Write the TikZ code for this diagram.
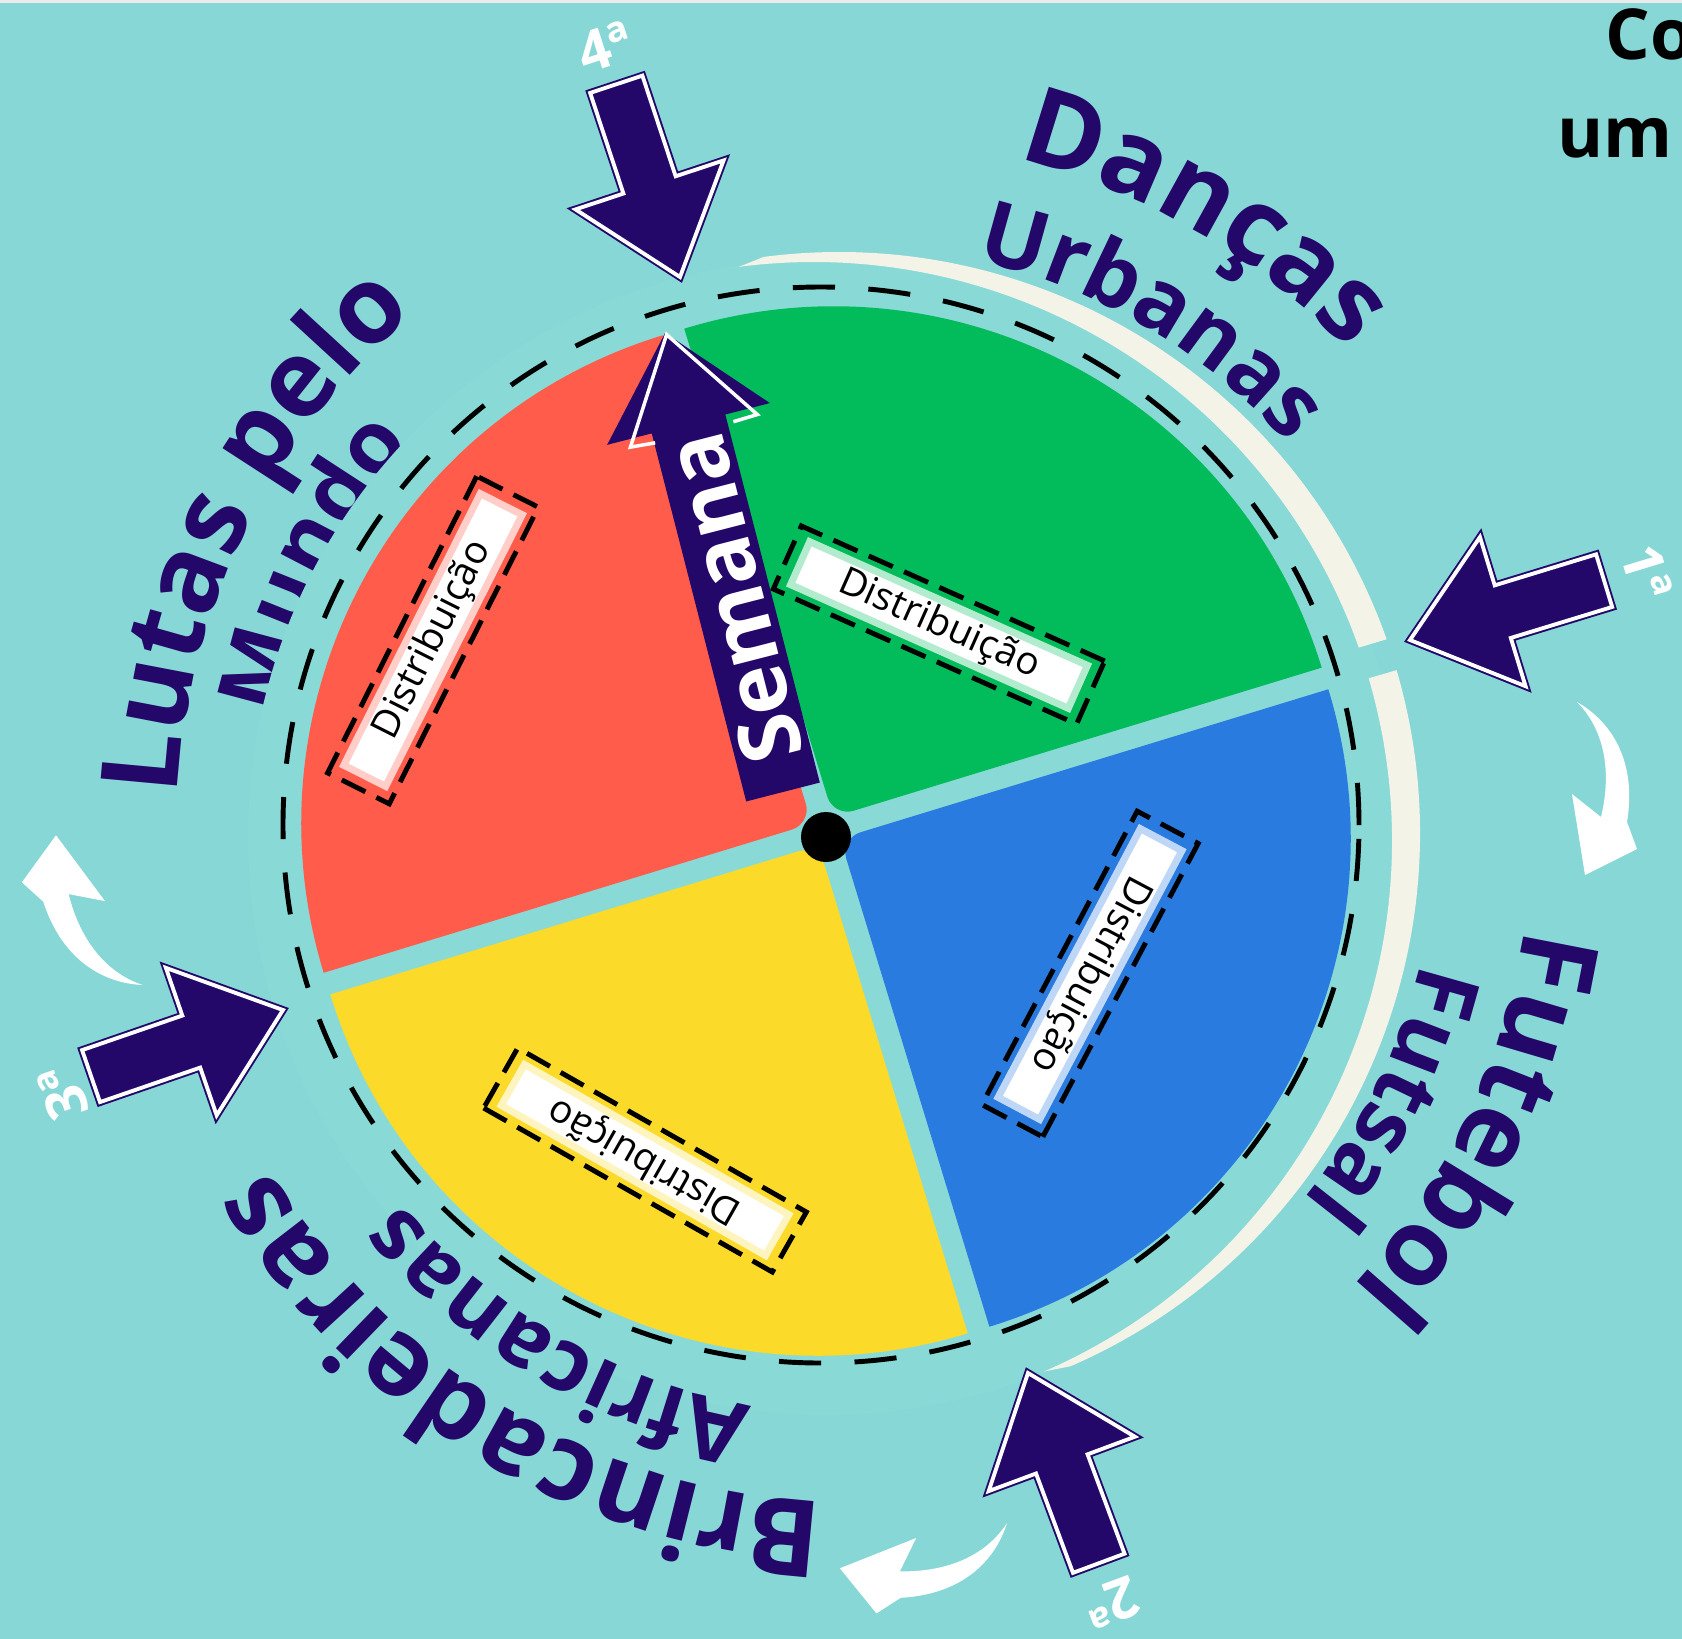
\documentclass[tikz,border=0pt]{standalone}
\usepackage{fontspec}
\setmainfont{Open Sans}
\usetikzlibrary{calc,decorations.text}
\definecolor{bgteal}{RGB}{135,215,214}
\definecolor{discteal}{RGB}{137,217,215}
\definecolor{inkblue}{RGB}{35,7,105}
\definecolor{creamarc}{RGB}{244,243,232}
\definecolor{pgreen}{RGB}{2,187,91}
\definecolor{pred}{RGB}{255,92,76}
\definecolor{pyellow}{RGB}{252,218,42}
\definecolor{pblue}{RGB}{41,123,224}
\newcommand\rimbig{\bfseries\fontsize{30.5}{30.5}\selectfont}
\newcommand\rimsmall{\bfseries\fontsize{25}{25}\selectfont}

\begin{document}
\begin{tikzpicture}[
  rimtext/.style={decorate, decoration={text along path, text align=center, text color=inkblue}},
  distframe/.style={draw, line width=1.4pt, dash pattern=on 7.5pt off 3.5pt, minimum width=3.32cm, minimum height=0.69cm, inner sep=0pt},
  distlabel/.style={fill=white, line width=2pt, minimum width=3.04cm, minimum height=0.47cm, inner sep=0pt, font=\fontsize{11}{11}\selectfont},
  daylabel/.style={text=white, font=\bfseries\fontsize{16}{16}\selectfont, inner sep=0pt},
  pics/dayarrow/.style={code={
    \filldraw[fill=inkblue, draw=white, line width=1.1pt, preaction={draw=inkblue, line width=2.2pt}]
      (0,0) -- (-0.97,0.78) -- (-0.97,0.275) -- (-2.03,0.275) -- (-2.03,-0.275) -- (-0.97,-0.275) -- (-0.97,-0.78) -- cycle;
  }},
  pics/turnhint/.style={code={
    \fill[white] (0,0) .. controls (0.35,-0.2) and (0.60,-0.6) .. (0.50,-1.20) -- (0.60,-1.47) -- (0.08,-1.73)
      -- (-0.05,-0.92) -- (0.24,-1.15) .. controls (0.36,-0.65) and (0.25,-0.25) .. (0,0) -- cycle;
  }}
]
\useasboundingbox (0,0) rectangle (16.82,-16.39);
\fill[bgteal] (0,0) rectangle (16.82,-16.39);
\fill[black!8] (0,0) rectangle (16.82,-0.03);

\coordinate (c) at (8.26,-8.37);
\coordinate (tc) at (8.52,-8.27);
\coordinate (p) at (8.26,-8.31);

\begin{scope}[shift={(tc)}]
  \path[rimtext, decoration={text={|\rimbig|Danças}}] (105:6.88) arc[start angle=105, end angle=15, radius=6.88];
  \path[rimtext, decoration={text={|\rimsmall|Urbanas}}] (104.5:5.80) arc[start angle=104.5, end angle=14.5, radius=5.80];
  \path[rimtext, decoration={text={|\rimbig|Futebol}}] (19.4:6.80) arc[start angle=19.4, end angle=-70.6, radius=6.80];
  \path[rimtext, decoration={text={|\rimsmall|Futsal}}] (18.5:5.85) arc[start angle=18.5, end angle=-71.5, radius=5.85];
  \path[rimtext, decoration={text={|\rimbig|Brincadeiras}}] (-76:6.75) arc[start angle=-76, end angle=-166, radius=6.75];
  \path[rimtext, decoration={text={|\rimbig|Lutas pelo}}] (198.85:6.75) arc[start angle=198.85, end angle=108.85, radius=6.75];
  \path[rimtext, decoration={text={|\rimsmall|Mundo}}] (199:5.84) arc[start angle=199, end angle=109, radius=5.84];
\end{scope}

\fill[discteal] (c) circle (5.78);

\begin{scope}[shift={(tc)}]
  \path[rimtext, decoration={text={|\rimsmall|Africanas}}] (-75:5.87) arc[start angle=-75, end angle=-165, radius=5.87];
\end{scope}

\coordinate (o1) at (8.3875,-8.3325);
\coordinate (o2) at (8.1325,-8.4075);
\fill[creamarc] ($(o1)+(97.4:5.8125)$) arc[start angle=97.4, end angle=19.5, radius=5.8125]
  -- ($(o2)+(19.5:5.7875)$) arc[start angle=19.5, end angle=97.4, radius=5.7875] -- cycle;
\fill[creamarc] ($(o1)+(16.3:5.8125)$) arc[start angle=16.3, end angle=-66.5, radius=5.8125]
  -- ($(o2)+(-66.5:5.7875)$) arc[start angle=-66.5, end angle=16.3, radius=5.7875] -- cycle;

\draw[line width=1.4pt, dash pattern=on 12pt off 9.5pt] (8.21,-8.25) circle (5.38);

\coordinate (ga) at ($(p)+(62:0.16)$);
\coordinate (ra) at ($(p)+(152:0.16)$);
\coordinate (ya) at ($(p)+(242:0.16)$);
\coordinate (ba) at ($(p)+(-28:0.16)$);
\fill[pgreen] ($(ga)+(17:2)$) -- ($(ga)+(17:5.105)$) arc[start angle=17, end angle=107, radius=5.105]
  -- ($(ga)+(107:2)$) [rounded corners=6pt] -- (ga) -- cycle;
\fill[pred] ($(ra)+(107:2)$) -- ($(ra)+(107:5.105)$) arc[start angle=107, end angle=197, radius=5.105]
  -- ($(ra)+(197:2)$) [rounded corners=6pt] -- (ra) -- cycle;
\fill[pyellow] ($(ya)+(197:2)$) -- ($(ya)+(197:5.105)$) arc[start angle=197, end angle=287, radius=5.105]
  -- ($(ya)+(287:2)$) [rounded corners=6pt] -- (ya) -- cycle;
\fill[pblue] ($(ba)+(-73:2)$) -- ($(ba)+(-73:5.105)$) arc[start angle=-73, end angle=17, radius=5.105]
  -- ($(ba)+(17:2)$) [rounded corners=6pt] -- (ba) -- cycle;

\node[distframe, rotate=-24] (gframe) at (9.39,-6.25) {};
\node[distlabel, draw=pgreen!30!white, rotate=-24] (gbox) at (9.39,-6.25) {Distribuição};
\node[distframe, rotate=63.3] (rframe) at (4.33,-6.40) {};
\node[distlabel, draw=pred!30!white, rotate=63.3] (rbox) at (4.33,-6.40) {Distribuição};
\node[distframe, rotate=-117.9] (bframe) at (10.90,-9.74) {};
\node[distlabel, draw=pblue!30!white, rotate=-117.9] (bbox) at (10.90,-9.74) {Distribuição};
\node[distframe, rotate=150.4] (yframe) at (6.45,-11.60) {};
\node[distlabel, draw=pyellow!30!white, rotate=150.4] (ybox) at (6.45,-11.60) {Distribuição};

\begin{scope}[shift={(7.83,-7.92)}, rotate=104.4]
  \fill[inkblue] (0,-0.38) -- (3.80,-0.38) -- (3.80,-0.84) -- (4.74,0) -- (3.80,0.84) -- (3.80,0.38) -- (0,0.38) -- cycle;
  \draw[white, line width=1pt] (3.70,0.37) -- (3.72,0.62) -- (4.72,-0.01) -- (3.72,-0.69) -- (3.71,-0.44);
  \node[rotate=104.4, text=white, font=\bfseries\fontsize{24}{24}\selectfont, inner sep=0pt] (semana) at (2.0,0) {Semana};
\end{scope}

\fill (c) circle (0.25);

\pic[rotate=-71.7] at (6.80,-2.77) {dayarrow};
\pic[rotate=197] at (14.10,-6.40) {dayarrow};
\pic[rotate=19] at (2.83,-10.10) {dayarrow};
\pic[rotate=110.4] at (10.28,-13.73) {dayarrow};

\node[daylabel, rotate=18] (lbl4) at (6.05,-0.47) {4ª};
\node[daylabel, rotate=-73] (lbl1) at (16.47,-5.72) {1ª};
\node[daylabel, rotate=109] (lbl3) at (0.63,-10.93) {3ª};
\node[daylabel, rotate=200.4] (lbl2) at (11.12,-16.03) {2ª};

\pic at (15.77,-7.02) {turnhint};
\pic[rotate=-77.5] at (10.07,-15.23) {turnhint};
\pic[rotate=207.5] at (1.43,-9.85) {turnhint};

\node[anchor=base west, inner sep=0pt, font=\bfseries\fontsize{20}{20}\selectfont] (topco) at (16.05,-0.59) {Co};
\node[anchor=base west, inner sep=0pt, font=\bfseries\fontsize{20}{20}\selectfont] (topum) at (15.57,-1.57) {um};
\end{tikzpicture}
\end{document}
